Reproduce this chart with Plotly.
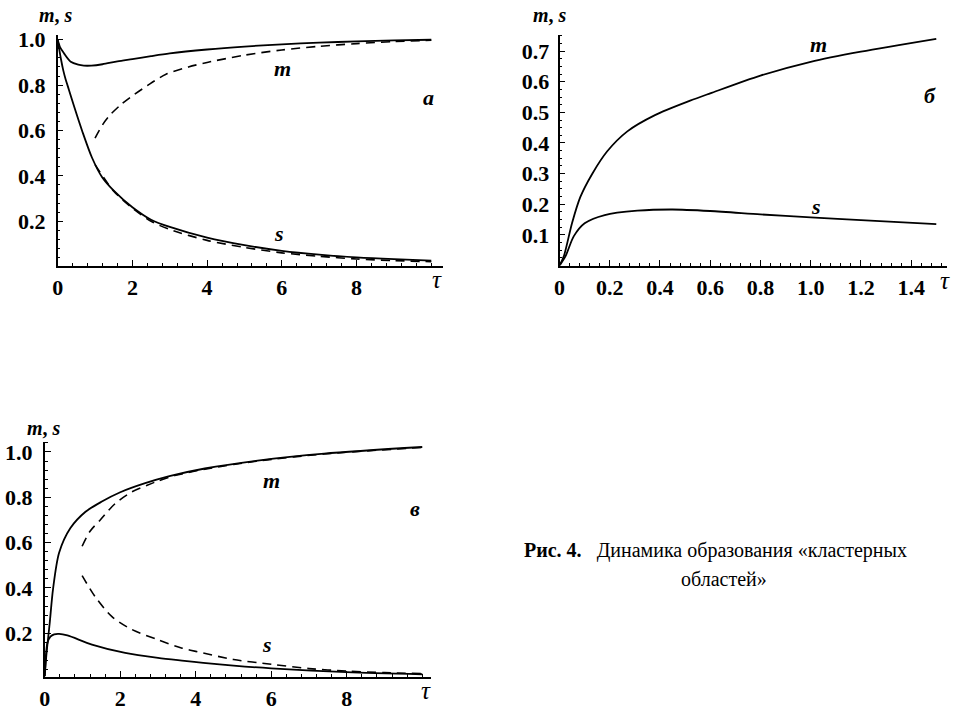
import plotly.graph_objects as go

# ---------------- data ----------------
# Panel a
tau_a_m = [0, 0.07, 0.17, 0.35, 0.55, 0.7, 0.9, 1.2, 1.6, 2.0, 2.5, 3, 4, 5, 6, 7, 8, 9, 10]
m_a = [1.0, 0.965, 0.94, 0.903, 0.89, 0.886, 0.886, 0.892, 0.905, 0.915, 0.928, 0.94, 0.957, 0.97, 0.98, 0.987, 0.993, 0.997, 1.0]
tau_a_md = [1.0, 1.2, 1.4, 1.7, 1.95, 2.4, 2.9, 3.5, 4, 5, 6, 7, 8, 9, 10]
md_a = [0.567, 0.625, 0.668, 0.715, 0.747, 0.798, 0.848, 0.88, 0.9, 0.932, 0.955, 0.971, 0.983, 0.992, 0.998]
tau_a_s = [0, 0.04, 0.09, 0.15, 0.21, 0.3, 0.43, 0.66, 0.92, 1.19, 1.5, 2, 2.5, 3, 4, 5, 6, 7, 8, 9, 10]
s_a = [1.0, 0.96, 0.913, 0.865, 0.827, 0.78, 0.711, 0.596, 0.48, 0.394, 0.335, 0.262, 0.207, 0.175, 0.128, 0.095, 0.07, 0.053, 0.041, 0.033, 0.027]
tau_a_sd = [1.0, 1.5, 2, 2.5, 3, 4, 5, 6, 7, 8, 9, 10]
sd_a = [0.45, 0.333, 0.258, 0.2, 0.164, 0.116, 0.085, 0.061, 0.046, 0.034, 0.027, 0.022]

# Panel b
tau_b_m = [0, 0.017, 0.05, 0.083, 0.13, 0.19, 0.27, 0.38, 0.52, 0.6, 0.8, 1.0, 1.2, 1.5]
m_b = [0, 0.03, 0.139, 0.224, 0.299, 0.373, 0.438, 0.491, 0.538, 0.562, 0.62, 0.665, 0.698, 0.74]
tau_b_s = [0, 0.024, 0.057, 0.1, 0.18, 0.31, 0.45, 0.6, 0.8, 1.0, 1.2, 1.5]
s_b = [0, 0.031, 0.096, 0.138, 0.165, 0.179, 0.183, 0.178, 0.167, 0.157, 0.148, 0.135]

# Panel c
tau_c_m = [0, 0.04, 0.13, 0.22, 0.38, 0.68, 1.08, 1.5, 2.0, 2.66, 3.3, 4.24, 5.64, 7.4, 10]
m_c = [0.01, 0.099, 0.243, 0.396, 0.555, 0.664, 0.736, 0.78, 0.822, 0.862, 0.893, 0.927, 0.962, 0.993, 1.022]
tau_c_md = [0.99, 1.2, 1.47, 1.87, 2.3, 2.7, 3.0, 3.5, 4.24, 5.64, 7.4, 10]
md_c = [0.584, 0.65, 0.7, 0.773, 0.823, 0.852, 0.872, 0.898, 0.924, 0.96, 0.991, 1.02]
tau_c_s = [0, 0.03, 0.07, 0.15, 0.25, 0.38, 0.6, 1.25, 2.13, 3.0, 3.7, 4.2, 5, 6, 8, 10]
s_c = [0.01, 0.1, 0.157, 0.185, 0.195, 0.197, 0.19, 0.15, 0.113, 0.091, 0.078, 0.069, 0.057, 0.045, 0.028, 0.019]
tau_c_sd = [0.99, 1.34, 1.78, 2.3, 3.0, 3.62, 4, 5, 6, 7, 8, 9, 10]
sd_c = [0.454, 0.36, 0.273, 0.217, 0.171, 0.135, 0.12, 0.084, 0.063, 0.044, 0.033, 0.026, 0.022]

# tick labels
xt_a = [0, 2, 4, 6, 8]
xt_a_text = ["0", "2", "4", "6", "8"]
yt_a = [0.2, 0.4, 0.6, 0.8, 1.0]
yt_a_text = ["0.2", "0.4", "0.6", "0.8", "1.0"]
xt_b = [0, 0.2, 0.4, 0.6, 0.8, 1.0, 1.2, 1.4]
xt_b_text = ["0", "0.2", "0.4", "0.6", "0.8", "1.0", "1.2", "1.4"]
yt_b = [0.1, 0.2, 0.3, 0.4, 0.5, 0.6, 0.7]
yt_b_text = ["0.1", "0.2", "0.3", "0.4", "0.5", "0.6", "0.7"]

caption1 = "<b>Рис. 4.</b>\u00a0\u00a0 Динамика образования «кластерных"
caption2 = "областей»"

# ---------------- figure ----------------
W, H = 959, 711
FONT = "Liberation Serif"


def fx(px):
    return px / W


def fy(py):
    return 1 - py / H


fig = go.Figure()

solid = dict(color="black", width=1.8)
dashed = dict(color="black", width=1.6, dash="9px,6px")


def add(x, y, line, xa, ya):
    fig.add_trace(go.Scatter(x=x, y=y, mode="lines", line=dict(**line, shape="spline", smoothing=0.8),
                             xaxis=xa, yaxis=ya, showlegend=False, hoverinfo="skip"))


add(tau_a_md, md_a, dashed, "x", "y")
add(tau_a_sd, sd_a, dashed, "x", "y")
add(tau_a_m, m_a, solid, "x", "y")
add(tau_a_s, s_a, solid, "x", "y")

add(tau_b_m, m_b, solid, "x2", "y2")
add(tau_b_s, s_b, solid, "x2", "y2")

add(tau_c_md, md_c, dashed, "x3", "y3")
add(tau_c_sd, sd_c, dashed, "x3", "y3")
add(tau_c_m, m_c, solid, "x3", "y3")
add(tau_c_s, s_c, solid, "x3", "y3")

tickfont = dict(family=FONT, size=22, color="black", weight="bold")


def axis(domain, rng, tv, tt, minor_dt, anchor, standoff):
    return dict(domain=domain, range=rng, anchor=anchor, showgrid=False, zeroline=False,
                showline=True, linecolor="black", linewidth=1.5,
                ticks="inside", ticklen=6, tickwidth=1.3, tickcolor="black",
                tickvals=tv, ticktext=tt, tickfont=tickfont, ticklabelstandoff=standoff,
                minor=dict(ticks="inside", ticklen=3, tickwidth=1, tickcolor="black", dtick=minor_dt, tick0=0,
                           showgrid=False))


fig.update_layout(
    width=W, height=H, autosize=False,
    margin=dict(l=0, r=0, t=0, b=0),
    paper_bgcolor="white", plot_bgcolor="white",
    font=dict(family=FONT, color="black"),
    xaxis=axis([fx(52), fx(440)], [0, 10.32], xt_a, xt_a_text, 0.4, "y", 1),
    yaxis=axis([fy(263), fy(28)], [0.005, 1.023], yt_a, yt_a_text, 0.04, "x", 6),
    xaxis2=axis([fx(557), fx(947)], [0, 1.543], xt_b, xt_b_text, 0.04, "y2", 1),
    yaxis2=axis([fy(263), fy(28)], [0, 0.754], yt_b, yt_b_text, 0.025, "x2", 4),
    xaxis3=axis([fx(39), fx(428)], [0, 10.24], xt_a, xt_a_text, 0.4, "y3", 1),
    yaxis3=axis([fy(681), fy(442)], [0.009, 1.046], yt_a, yt_a_text, 0.04, "x3", 6),
)


def ann(px, py, text, size=20, xanchor="center", yanchor="middle"):
    fig.add_annotation(x=fx(px), y=fy(py), xref="paper", yref="paper", text=text, showarrow=False,
                       xanchor=xanchor, yanchor=yanchor, borderpad=0,
                       font=dict(family=FONT, size=size, color="black"))


# axis titles
ann(50, 20, "<b><i>m</i>, <i>s</i></b>", 20, yanchor="bottom")
ann(547, 20, "<b><i>m</i>, <i>s</i></b>", 20, yanchor="bottom")
ann(38, 440, "<b><i>m</i>, <i>s</i></b>", 20, yanchor="bottom")
ann(434, 277, "<i>τ</i>", 25)
ann(945, 278, "<i>τ</i>", 25)
ann(423, 695, "<i>τ</i>", 25)

# curve labels
ann(278, 63, "<b><i>m</i></b>", 22)
ann(275, 230, "<b><i>s</i></b>", 22)
ann(425, 92, "<b><i>а</i></b>", 22)
ann(818, 38, "<b><i>m</i></b>", 22)
ann(815, 203, "<b><i>s</i></b>", 22)
ann(930, 90, "<b><i>б</i></b>", 22)
ann(267, 482, "<b><i>m</i></b>", 22)
ann(263, 648, "<b><i>s</i></b>", 22)
ann(412, 510, "<b><i>в</i></b>", 22)

# caption
ann(520, 553, caption1, 20, xanchor="left")
ann(723, 582, caption2, 20)

fig.write_html("out.html", config={"displayModeBar": False},
               post_script="document.body.style.margin='0px';document.body.style.overflow='hidden';")
